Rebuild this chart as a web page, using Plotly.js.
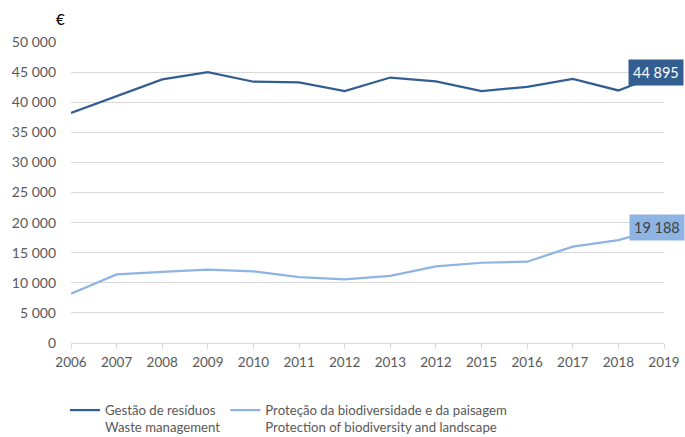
<!DOCTYPE html>
<html>
<head>
<meta charset="utf-8">
<script src="https://cdn.plot.ly/plotly-3.0.1.min.js"></script>
<style>html,body{margin:0;padding:0;background:#fff;}#chart{width:685px;height:437px;}</style>
</head>
<body>
<div id="chart"></div>
<script>
var yearLabels = ["2006","2007","2008","2009","2010","2011","2012","2013","2012","2015","2016","2017","2018","2019"];
var wasteValues = [38200, 41000, 43800, 45000, 43400, 43300, 41850, 44100, 43450, 41850, 42550, 43880, 41950, 44895];
var bioValues = [8200, 11400, 11800, 12170, 11900, 10950, 10560, 11170, 12720, 13330, 13500, 16000, 17100, 19188];
var wasteName = "Gestão de resíduos<br>Waste management";
var bioName = "Proteção da biodiversidade e da paisagem<br>Protection of biodiversity and landscape";

var darkBlue = "#335e91";
var lightBlue = "#8db4e2";
var FONT = "Lato, 'Open Sans', sans-serif";

function fmt(v){ return String(v).replace(/\B(?=(\d{3})+(?!\d))/g, " "); }

var xIdx = yearLabels.map(function(_, i){ return i; });
var last = xIdx.length - 1;

var traces = [
  {x: xIdx, y: wasteValues, type: "scatter", mode: "lines", name: wasteName,
   line: {color: darkBlue, width: 2.25}, hoverinfo: "skip"},
  {x: xIdx, y: bioValues, type: "scatter", mode: "lines", name: bioName,
   line: {color: lightBlue, width: 2.25}, hoverinfo: "skip"}
];

var layout = {
  width: 685, height: 437,
  margin: {l: 71, r: 21, t: 42, b: 94},
  paper_bgcolor: "#ffffff", plot_bgcolor: "#ffffff",
  separators: ", ",
  font: {family: FONT, size: 14, color: "#595959"},
  showlegend: true,
  legend: {orientation: "h", xref: "container", x: 65 / 685, xanchor: "left",
           yref: "container", y: 42 / 437, yanchor: "top", valign: "top",
           font: {family: FONT, size: 13.2, color: "#595959"},
           itemwidth: 30, tracegroupgap: 0, bgcolor: "rgba(0,0,0,0)"},
  xaxis: {range: [0, last], tickmode: "array", tickvals: xIdx, ticktext: yearLabels,
          showgrid: false, zeroline: false, showline: true, linecolor: "#d9d9d9", linewidth: 1,
          ticks: "outside", ticklen: 5, tickcolor: "#d9d9d9", ticklabelstandoff: 2,
          tickfont: {family: FONT, size: 13.5, color: "#595959"}, fixedrange: true},
  yaxis: {range: [0, 50000], dtick: 5000, tickformat: ",d",
          showgrid: true, gridcolor: "#d9d9d9", gridwidth: 1, zeroline: false, showline: false,
          ticks: "", ticklabelstandoff: 14,
          tickfont: {family: FONT, size: 14, color: "#595959"}, fixedrange: true},
  annotations: [
    {xref: "paper", yref: "paper", x: -0.017, y: 1.075, xanchor: "center", yanchor: "middle",
     text: "€", showarrow: false, font: {family: FONT, size: 15, color: "#000000"}},
    {xref: "x", yref: "y", x: last, y: wasteValues[last], text: fmt(wasteValues[last]),
     showarrow: false, xshift: -8, bgcolor: darkBlue, borderpad: 4,
     font: {family: FONT, size: 14.5, color: "#ffffff"}},
    {xref: "x", yref: "y", x: last, y: bioValues[last], text: fmt(bioValues[last]),
     showarrow: false, xshift: -7, bgcolor: lightBlue, borderpad: 4,
     font: {family: FONT, size: 14.5, color: "#404040"}}
  ]
};

Plotly.newPlot("chart", traces, layout, {displayModeBar: false, staticPlot: true});
</script>
</body>
</html>
